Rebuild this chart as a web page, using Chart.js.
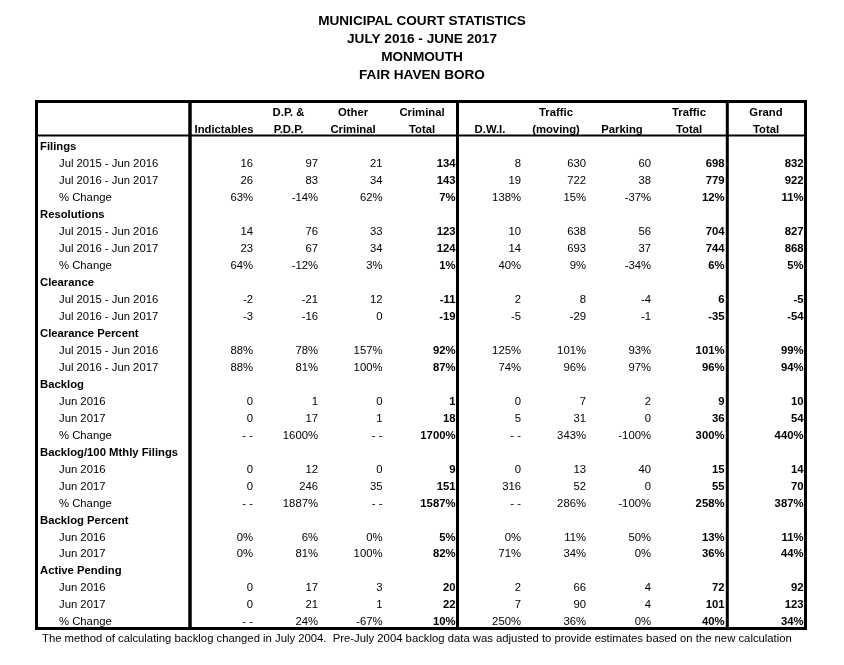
<!DOCTYPE html>
<html>
<head>
<meta charset="utf-8">
<script src="https://cdn.jsdelivr.net/npm/chart.js@4.4.1/dist/chart.umd.min.js"></script>
<style>
  body { margin: 0; background: #fff; }
  canvas { display: block; }
</style>
</head>
<body>
<canvas id="stats" width="844" height="665"></canvas>
<script>
// ---- data ----
const titleLines = ["MUNICIPAL COURT STATISTICS", "JULY 2016 - JUNE 2017", "MONMOUTH", "FAIR HAVEN BORO"];
const footNote = "The method of calculating backlog changed in July 2004.  Pre-July 2004 backlog data was adjusted to provide estimates based on the new calculation";

const headerTop = ["", "D.P. &", "Other", "Criminal", "", "Traffic", "", "Traffic", "Grand"];
const headerBottom = ["Indictables", "P.D.P.", "Criminal", "Total", "D.W.I.", "(moving)", "Parking", "Total", "Total"];
const boldColumns = [3, 7, 8];

const periods = ["Jul 2015 - Jun 2016", "Jul 2016 - Jun 2017"];
const months = ["Jun 2016", "Jun 2017"];

const sectionNames = ["Filings", "Resolutions", "Clearance", "Clearance Percent", "Backlog",
    "Backlog/100 Mthly Filings", "Backlog Percent", "Active Pending"];
const sectionRows = [
    [...periods, "% Change"],
    [...periods, "% Change"],
    [...periods],
    [...periods],
    [...months, "% Change"],
    [...months, "% Change"],
    [...months],
    [...months, "% Change"],
];

// null = "- -"
const filings = [
    [16, 97, 21, 134, 8, 630, 60, 698, 832],
    [26, 83, 34, 143, 19, 722, 38, 779, 922],
    [63, -14, 62, 7, 138, 15, -37, 12, 11],
];
const resolutions = [
    [14, 76, 33, 123, 10, 638, 56, 704, 827],
    [23, 67, 34, 124, 14, 693, 37, 744, 868],
    [64, -12, 3, 1, 40, 9, -34, 6, 5],
];
const clearance = [
    [-2, -21, 12, -11, 2, 8, -4, 6, -5],
    [-3, -16, 0, -19, -5, -29, -1, -35, -54],
];
const clearancePercent = [
    [88, 78, 157, 92, 125, 101, 93, 101, 99],
    [88, 81, 100, 87, 74, 96, 97, 96, 94],
];
const backlog = [
    [0, 1, 0, 1, 0, 7, 2, 9, 10],
    [0, 17, 1, 18, 5, 31, 0, 36, 54],
    [null, 1600, null, 1700, null, 343, -100, 300, 440],
];
const backlogPer100 = [
    [0, 12, 0, 9, 0, 13, 40, 15, 14],
    [0, 246, 35, 151, 316, 52, 0, 55, 70],
    [null, 1887, null, 1587, null, 286, -100, 258, 387],
];
const backlogPercent = [
    [0, 6, 0, 5, 0, 11, 50, 13, 11],
    [0, 81, 100, 82, 71, 34, 0, 36, 44],
];
const activePending = [
    [0, 17, 3, 20, 2, 66, 4, 72, 92],
    [0, 21, 1, 22, 7, 90, 4, 101, 123],
    [null, 24, -67, 10, 250, 36, 0, 40, 34],
];
const sectionValues = [filings, resolutions, clearance, clearancePercent, backlog,
    backlogPer100, backlogPercent, activePending];

// ---- layout (page units on the x scale, row units on the y scale) ----
const FONT = "'Liberation Sans', Arial, Helvetica, sans-serif";
const SIZE = 11.3;
const sectionX = 40;
const rowLabelX = 59;
const footX = 42;
const colRight = [253, 318, 382.5, 455.5, 521, 586, 651, 724.5, 803.5];
const colCenter = [224, 288.5, 353, 422, 490, 556, 622, 689, 766];
const vLines = [{ x: 36.5, w: 3 }, { x: 190, w: 3.5 }, { x: 457.5, w: 3 }, { x: 727.3, w: 3 }, { x: 805.5, w: 3 }];
const boxTop = -0.67, boxBottom = 30.4, headerRule = 1.33, footRow = 31.03;

const fmt = (v, pct) => (v === null ? "- -" : v + (pct ? "%" : ""));

// ---- build points ----
const headerPts = [];
headerTop.forEach((t, c) => { if (t) headerPts.push({ x: colCenter[c], y: 0, label: t }); });
headerBottom.forEach((t, c) => headerPts.push({ x: colCenter[c], y: 1, label: t }));

const sectionPts = [];
const rowLabelPts = [];
const colPts = colRight.map(() => []);
let row = 2;
sectionNames.forEach((name, s) => {
    sectionPts.push({ x: sectionX, y: row, label: name });
    row++;
    const pctSection = name.includes("Percent");
    sectionRows[s].forEach((lbl, r) => {
        rowLabelPts.push({ x: rowLabelX, y: row, label: lbl });
        const pct = pctSection || lbl === "% Change";
        sectionValues[s][r].forEach((v, c) => {
            colPts[c].push({ x: colRight[c], y: row, label: fmt(v, pct) });
        });
        row++;
    });
});
const rowCount = row;

const textSet = (data, align, bold) => ({
    data, align, bold, pointRadius: 0, pointHoverRadius: 0, showLine: false,
});

const datasets = [
    textSet(headerPts, "center", true),
    textSet(sectionPts, "left", true),
    textSet(rowLabelPts, "left", false),
    ...colPts.map((pts, c) => textSet(pts, "right", boldColumns.includes(c))),
];

// draws table rules, cell text and the note under the table from the scales
const tablePlugin = {
    id: "tableText",
    afterDatasetsDraw(chart) {
        const { ctx, scales: { x, y } } = chart;
        ctx.save();
        ctx.strokeStyle = "#000";
        ctx.lineCap = "butt";
        const top = y.getPixelForValue(boxTop);
        const bottom = y.getPixelForValue(boxBottom);
        vLines.forEach((l) => {
            ctx.lineWidth = l.w;
            ctx.beginPath();
            ctx.moveTo(x.getPixelForValue(l.x), top - 1.5);
            ctx.lineTo(x.getPixelForValue(l.x), bottom + 1.5);
            ctx.stroke();
        });
        const left = x.getPixelForValue(vLines[0].x);
        const right = x.getPixelForValue(vLines[vLines.length - 1].x);
        ctx.lineWidth = 3;
        [top, bottom].forEach((py) => {
            ctx.beginPath();
            ctx.moveTo(left - 1.5, py);
            ctx.lineTo(right + 1.5, py);
            ctx.stroke();
        });
        ctx.lineWidth = 2;
        const hr = y.getPixelForValue(headerRule);
        ctx.beginPath();
        ctx.moveTo(left, hr);
        ctx.lineTo(right, hr);
        ctx.stroke();

        ctx.fillStyle = "#000";
        ctx.textBaseline = "middle";
        chart.data.datasets.forEach((ds, i) => {
            const meta = chart.getDatasetMeta(i);
            ctx.font = (ds.bold ? "bold " : "") + SIZE + "px " + FONT;
            ctx.textAlign = ds.align;
            meta.data.forEach((el, j) => {
                ctx.fillText(ds.data[j].label, el.x, el.y + 0.5);
            });
        });

        ctx.font = SIZE + "px " + FONT;
        ctx.textAlign = "left";
        ctx.fillText(footNote, x.getPixelForValue(footX), y.getPixelForValue(footRow));
        ctx.restore();
    },
};

Chart.defaults.color = "#000";

new Chart(document.getElementById("stats"), {
    type: "scatter",
    data: { datasets },
    options: {
        responsive: false,
        animation: false,
        events: [],
        layout: { padding: { left: 0, right: 0, top: 0, bottom: 34.8 } },
        scales: {
            x: { type: "linear", min: 0, max: 844, display: false },
            y: { type: "linear", min: -0.5, max: rowCount - 0.5, reverse: true, display: false },
        },
        plugins: {
            legend: { display: false },
            tooltip: { enabled: false },
            title: {
                display: true,
                text: titleLines,
                color: "#000",
                font: { family: FONT, size: 13.6, weight: "bold", lineHeight: "18px" },
                padding: { top: 12, bottom: 20.4 },
            },
        },
    },
    plugins: [tablePlugin],
});
</script>
</body>
</html>
